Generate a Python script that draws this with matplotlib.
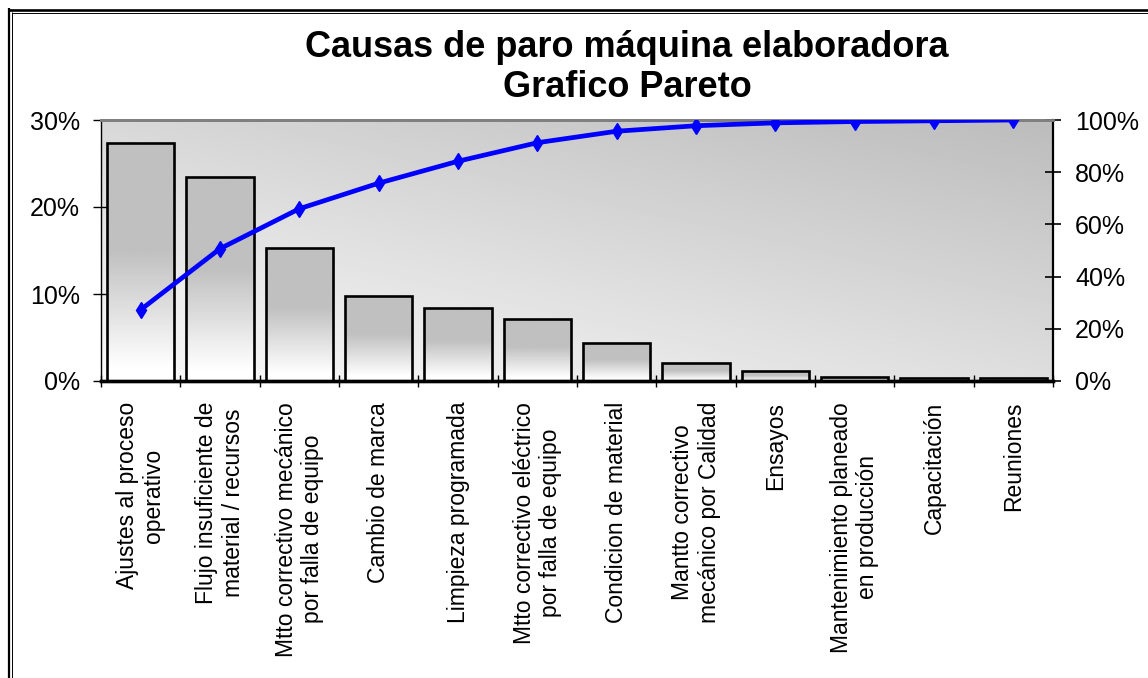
import numpy as np
import matplotlib
matplotlib.use("Agg")
import matplotlib.pyplot as plt
from matplotlib.lines import Line2D

plt.rcParams['font.family'] = ['Liberation Sans', 'DejaVu Sans']

# datos (porcentaje de cada causa)
causas = [
    "Ajustes al proceso\noperativo",
    "Flujo insuficiente de\nmaterial / recursos",
    "Mtto correctivo mecánico\npor falla de equipo",
    "Cambio de marca",
    "Limpieza programada",
    "Mtto correctivo eléctrico\npor falla de equipo",
    "Condicion de material",
    "Mantto correctivo\nmecánico por Calidad",
    "Ensayos",
    "Mantenimiento planeado\nen producción",
    "Capacitación",
    "Reuniones",
]
porcentaje = [27.3, 23.4, 15.3, 9.8, 8.4, 7.1, 4.4, 2.1, 1.1, 0.5, 0.3, 0.3]
ticks_izq = [0, 10, 20, 30]
ticks_der = [0, 20, 40, 60, 80, 100]

acumulado = np.cumsum(porcentaje)
x = np.arange(len(causas))

W, H = 1148, 678
fig = plt.figure(figsize=(W / 100, H / 100), dpi=100)
ax = fig.add_axes([101 / W, 1 - 381 / H, (1053 - 101) / W, (381 - 120) / H])
ax2 = ax.twinx()

# fondo degradado del area de trazado
gx, gy = np.meshgrid(np.linspace(0, 1, 300), np.linspace(0, 1, 150))
fondo = 250 - 62 * (0.45 * gx + 0.55 * gy)
ax.imshow(fondo, extent=(-0.5, len(causas) - 0.5, 0, 30), origin='lower',
          cmap='gray', vmin=0, vmax=255, aspect='auto', zorder=0)

# barras con degradado vertical
bars = ax.bar(x, porcentaje, width=0.85, facecolor='none', edgecolor='black',
              linewidth=1.9, zorder=3)
f = np.linspace(0, 1, 100).reshape(-1, 1)
grad_barra = 255 - 63 * np.clip((f - 0.05) / 0.5, 0, 1)
for b in bars:
    im = ax.imshow(grad_barra, extent=(b.get_x(), b.get_x() + b.get_width(), 0, b.get_height()),
                   origin='lower', cmap='gray', vmin=0, vmax=255, aspect='auto', zorder=2)
    im.set_clip_path(b)

ax.set_xlim(-0.5, len(causas) - 0.5)
ax.set_ylim(0, 30)
ax.set_yticks(ticks_izq)
ax.set_yticklabels([f"{v}%" for v in ticks_izq], fontsize=18)
ax.tick_params(axis='y', direction='inout', length=12, width=1, pad=9)

ax.set_xticks(x)
ax.set_xticklabels(causas, rotation=90, fontsize=16.5, ha='center', va='top')
ax.tick_params(axis='x', which='major', length=0, pad=15)
ax.set_xticks(np.arange(len(causas) + 1) - 0.5, minor=True)
ax.tick_params(axis='x', which='minor', direction='inout', length=9, width=1)

# linea acumulada
ax2.plot(x, acumulado, color='#0000ff', linewidth=3.4, marker='d', markersize=8, zorder=5)
ax2.set_ylim(0, 100)
ax2.set_yticks(ticks_der)
ax2.set_yticklabels([f"{v}%" for v in ticks_der], fontsize=18)
ax2.tick_params(axis='y', direction='inout', length=12, width=1.2, pad=10)

for a in (ax, ax2):
    a.spines['top'].set_color('#808080')
    a.spines['top'].set_linewidth(2)
    a.spines['bottom'].set_color('black')
    a.spines['bottom'].set_linewidth(2.4)
ax.spines['left'].set_linewidth(1)
ax2.spines['left'].set_visible(False)
ax2.spines['right'].set_linewidth(1.6)
ax.spines['right'].set_visible(False)

fig.text(627 / W, 1 - 30 / H, "Causas de paro máquina elaboradora\nGrafico Pareto",
         ha='center', va='top', fontsize=26, fontweight='bold', linespacing=1.2)

# borde del grafico
def px_line(xs, ys, lw):
    fig.add_artist(Line2D([v / W for v in xs], [1 - v / H for v in ys],
                          transform=fig.transFigure, color='black', linewidth=lw,
                          solid_capstyle='butt'))

px_line([8, W], [9.5, 9.5], 1.9)
px_line([9, 9], [8, H], 1.6)
px_line([11.5, W], [12.5, 12.5], 0.7)
px_line([11.8, 11.8], [12, H], 0.7)

fig.savefig("out.png", dpi=100)
